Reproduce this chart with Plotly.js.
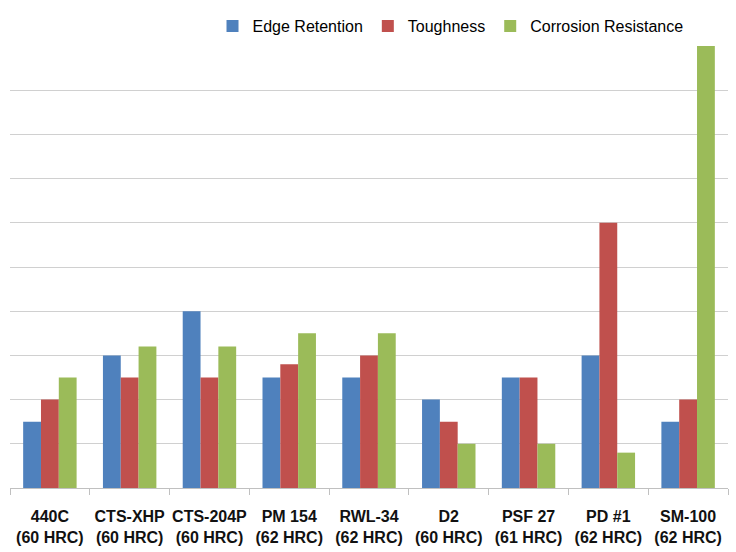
<!DOCTYPE html>
<html><head><meta charset="utf-8">
<script src="https://cdn.plot.ly/plotly-3.0.1.min.js"></script>
<style>html,body{margin:0;padding:0;background:#fff;}#chart{width:736px;height:552px;}</style>
</head><body><div id="chart"></div>
<script>
const categories = ["440C<br>(60 HRC)","CTS-XHP<br>(60 HRC)","CTS-204P<br>(60 HRC)","PM 154<br>(62 HRC)","RWL-34<br>(62 HRC)","D2<br>(60 HRC)","PSF 27<br>(61 HRC)","PD #1<br>(62 HRC)","SM-100<br>(62 HRC)"];
const edgeRetention = [1.5, 3, 4, 2.5, 2.5, 2, 2.5, 3, 1.5];
const toughness = [2, 2.5, 2.5, 2.8, 3, 1.5, 2.5, 6, 2];
const corrosionResistance = [2.5, 3.2, 3.2, 3.5, 3.5, 1, 1, 0.8, 10];
const seriesNames = ["Edge Retention","Toughness","Corrosion Resistance"];
const colors = ["#4f81bd","#c0504d","#9bbb59"];
const vals = [edgeRetention, toughness, corrosionResistance];
const data = vals.map((v,i)=>({type:'bar', x:categories, y:v, name:seriesNames[i], marker:{color:colors[i]}}));
const font = "'Liberation Sans', Arial, sans-serif";
Plotly.newPlot('chart', data, {
  width:736, height:552,
  margin:{l:10,r:8,t:46,b:64, autoexpand:false},
  paper_bgcolor:'#fff', plot_bgcolor:'#fff',
  barmode:'group', bargap:0.33, bargroupgap:0,
  font:{family:font, color:'#000'},
  xaxis:{showline:true, linecolor:'#c0c0c0', linewidth:1, ticks:'outside', tickson:'boundaries', ticklen:6, tickcolor:'#c0c0c0',
         tickangle:0, automargin:false, ticklabelstandoff:14,
         tickfont:{size:16, family:font, weight:'bold', color:'#111'}},
  yaxis:{range:[0,10], dtick:1, showticklabels:false, gridcolor:'#d0d0d0', zeroline:false, showline:false, ticks:'', automargin:false},
  legend:{orientation:'h', x:0.945, xanchor:'right', y:1.045, yanchor:'middle', font:{size:16, family:font}, itemwidth:30, traceorder:'normal'},
  showlegend:true
}, {displayModeBar:false, staticPlot:true});
</script></body></html>
